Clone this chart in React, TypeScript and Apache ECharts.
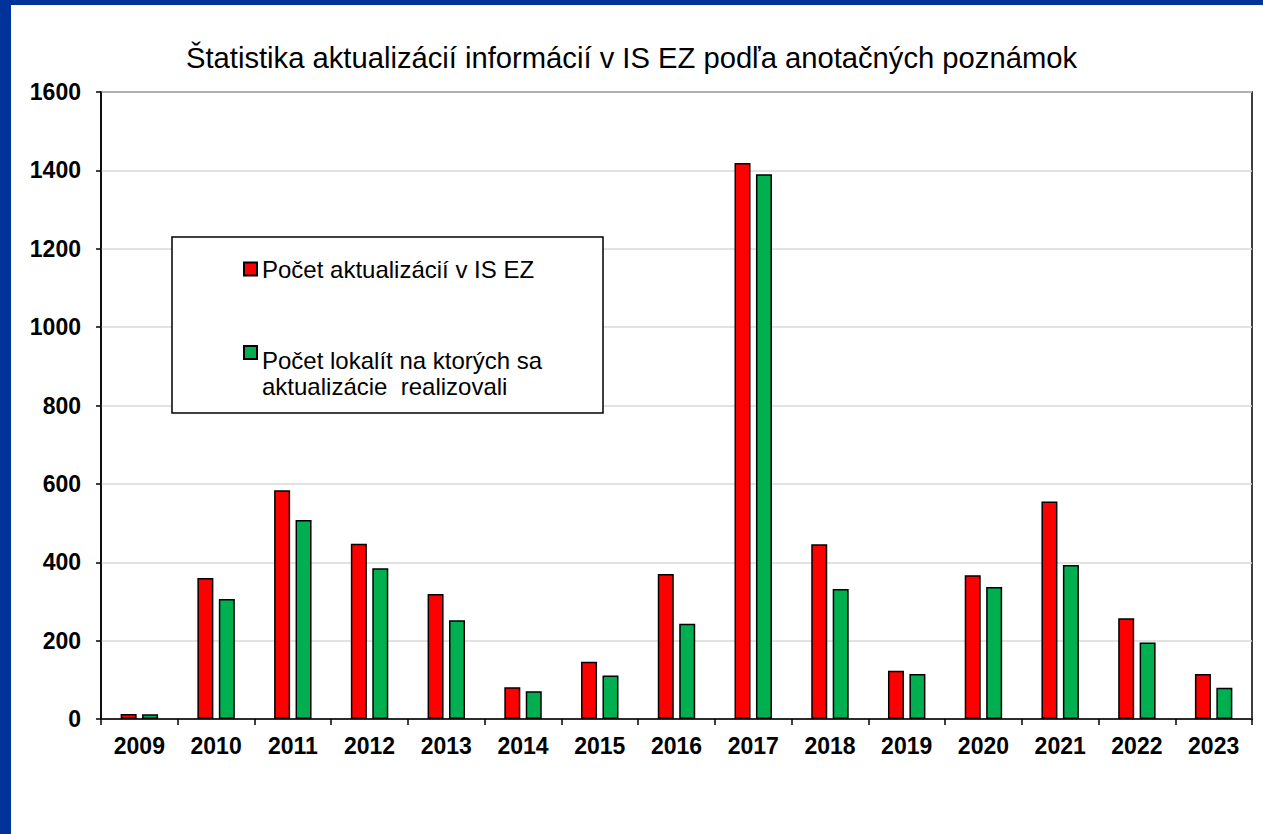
import React, { useEffect, useRef } from "react";
import * as echarts from "echarts";

const years = ["2009", "2010", "2011", "2012", "2013", "2014", "2015", "2016", "2017", "2018", "2019", "2020", "2021", "2022", "2023"];
const updates = [13, 360, 584, 447, 319, 81, 146, 370, 1419, 446, 123, 367, 555, 257, 115];
const localities = [12, 306, 508, 385, 252, 71, 111, 243, 1390, 332, 115, 337, 393, 195, 80];
const yMin = 0;
const yMax = 1600;
const yStep = 200;

const nameUpdates = "Počet aktualizácií v IS EZ";
const nameLocalities = "Počet lokalít na ktorých sa aktualizácie realizovali";
const localitiesLine1 = "Počet lokalít na ktorých sa";
const localitiesLine2 = "aktualizácie  realizovali";
const titleText = "Štatistika aktualizácií informácií v IS EZ podľa anotačných poznámok";

const FONT = "'Liberation Sans', Arial, sans-serif";

export default function App() {
  const ref = useRef<HTMLDivElement>(null);
  useEffect(() => {
    const chart = echarts.init(ref.current!, null, { renderer: "svg" });
    chart.setOption({
      animation: false,
      backgroundColor: "#fff",
      title: {
        text: titleText,
        left: "center",
        top: 43,
        padding: 0,
        textStyle: { fontFamily: FONT, fontSize: 29.2, fontWeight: "normal", color: "#000" },
      },
      graphic: [
        { type: "rect", z: 100, shape: { x: 0, y: 0, width: 1263, height: 5 }, style: { fill: "#003399" } },
        { type: "rect", z: 100, shape: { x: 0, y: 0, width: 11, height: 834 }, style: { fill: "#003399" } },
        {
          type: "rect",
          z: 5,
          shape: { x: 172, y: 237, width: 431, height: 176 },
          style: { fill: "#fff", stroke: "#000", lineWidth: 1.5 },
        },
      ],
      legend: {
        orient: "vertical",
        left: 243,
        top: 256,
        padding: 0,
        itemWidth: 13,
        itemHeight: 13,
        itemGap: 24,
        z: 10,
        formatter: (name: string) =>
          name === nameLocalities
            ? `{s| }\n{t|${localitiesLine1}}\n{t|${localitiesLine2}}`
            : `{t|${name}}`,
        textStyle: {
          fontFamily: FONT,
          fontSize: 24,
          color: "#000",
          lineHeight: 23,
          rich: {
            s: { fontSize: 4, lineHeight: 41 },
            t: { fontFamily: FONT, fontSize: 24, color: "#000", lineHeight: 26 },
          },
        },
        data: [
          { name: nameUpdates, icon: "rect" },
          { name: nameLocalities, icon: "rect" },
        ],
      },
      grid: {
        left: 101,
        right: 11,
        top: 92,
        bottom: 115,
        show: true,
        borderColor: "#000",
        borderWidth: 1.5,
        backgroundColor: "transparent",
      },
      xAxis: {
        type: "category",
        data: years,
        axisLine: { lineStyle: { color: "#000", width: 1.5 } },
        axisTick: { show: true, length: 6, lineStyle: { color: "#000", width: 1.5 } },
        axisLabel: { fontFamily: FONT, fontSize: 23, fontWeight: "bold", color: "#000", margin: 15 },
      },
      yAxis: {
        type: "value",
        min: yMin,
        max: yMax,
        interval: yStep,
        axisLine: { show: true, lineStyle: { color: "#000", width: 1.5 } },
        axisTick: { show: true, length: 5, lineStyle: { color: "#000", width: 1.5 } },
        axisLabel: {
          fontFamily: FONT,
          fontSize: 23,
          fontWeight: "bold",
          color: "#000",
          margin: 20,
          formatter: (v: number) => String(v),
        },
        splitLine: { lineStyle: { color: "#d9d9d9", width: 1.5 } },
      },
      series: [
        {
          name: nameUpdates,
          type: "bar",
          data: updates,
          barWidth: 16,
          barGap: "34%",
          itemStyle: { color: "#ff0000", borderColor: "#000", borderWidth: 1.5 },
        },
        {
          name: nameLocalities,
          type: "bar",
          data: localities,
          barWidth: 16,
          barGap: "34%",
          itemStyle: { color: "#00b050", borderColor: "#000", borderWidth: 1.5 },
        },
      ],
    });
    return () => chart.dispose();
  }, []);
  return (
    <div
      ref={ref}
      style={{ position: "fixed", left: 0, top: 0, width: 1263, height: 834, background: "#fff" }}
    />
  );
}
